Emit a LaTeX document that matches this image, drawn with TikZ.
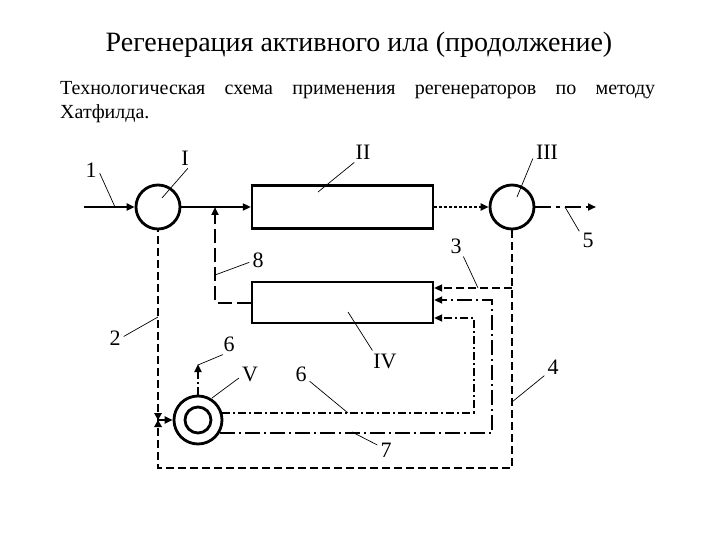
\documentclass[tikz,border=0pt]{standalone}
\usepackage{fontspec}
\setmainfont{Liberation Serif}
\usetikzlibrary{arrows.meta,positioning}

\begin{document}
\begin{tikzpicture}[x=1pt, y=-1pt, >={Triangle[length=8pt,width=7pt]},
  app/.style={draw, line width=2.4pt, inner sep=0pt, minimum width=181pt},
  tank/.style={circle, draw, line width=2.8pt, inner sep=0pt, minimum size=44pt},
  lbl/.style={font=\fontsize{22}{26}\selectfont, inner sep=3pt},
  lead/.style={line width=0.7pt},
  flow/.style={line width=2pt},
  ret/.style={flow, dash pattern=on 8pt off 4pt},
  dots/.style={flow, dash pattern=on 3pt off 2pt},
  outl/.style={flow, dash pattern=on 16pt off 5pt on 4pt off 5pt},
  l8/.style={flow, dash pattern=on 14pt off 5pt},
  dd1/.style={flow, dash pattern=on 8pt off 3pt on 2pt off 3pt},
  dd2/.style={flow, dash pattern=on 15pt off 4pt on 2pt off 4pt}]
\useasboundingbox (0,0) rectangle (720,540);
% heading
\node[font=\fontsize{28}{34}\selectfont, anchor=base] (title) at (359,52)
  {Регенерация активного ила (продолжение)};
\node[font=\fontsize{20}{24}\selectfont, anchor=base west, text width=595pt,
  align=justify, inner sep=0pt] (sub) at (60,95)
  {\noindent Технологическая схема применения регенераторов по методу\linebreak Хатфилда.};
% apparatus
\node[tank] (c1) at (158,207) {};
\node[app, minimum height=43pt] (b2) at (342.5,207) {};
\node[tank] (c3) at (512,207) {};
\node[app, minimum height=41pt] (b4) at (342.5,302.5) {};
\node[tank, minimum size=48pt] (c5) at (198,420) {};
\node[tank, minimum size=26pt] (c5i) at (c5) {};
% free ends
\coordinate (in) at (84,207);
\coordinate (out) at (596,207);
\coordinate (j8) at (215,207);
\coordinate (j3) at (512,288);
\coordinate (k1) at (474,318);
\coordinate (k2) at (492,300);
\coordinate (bot) at (335,468);
\coordinate (v) at (158,420);
\coordinate (up6) at (198,364);
% flows
\draw[flow,->] (in) -- (c1);
\draw[flow,->] (c1) -- (b2);
\draw[dots,->] (b2) -- (c3);
\draw[outl,->] (c3) -- (out);
\draw[l8,->] (b4.west) -| (j8);
\draw[ret] (c3.south) |- (bot) -| (c1.south);
\draw[ret,->] (j3) -- (b4.east |- j3);
\draw[flow,->] (v) -- (c5.west);
\fill (v) -- ++(-4,-7) -- ++(8,0) -- cycle;
\fill (v) -- ++(-4,7) -- ++(8,0) -- cycle;
\draw[dd1,->] (c5.north) -- (up6);
\draw[dd1,->] (c5.17) -| (k1) -- (b4.east |- k1);
\draw[dd2,->] (c5.-30) -| (k2) -- (b4.east |- k2);
% labels
\node[lbl] (l1) at (91,170) {1};
\node[lbl] (lI) at (185,158) {I};
\node[lbl] (lII) at (363,152) {II};
\node[lbl] (lIII) at (547,152) {III};
\node[lbl] (l5) at (588,240) {5};
\node[lbl] (l3) at (456,246) {3};
\node[lbl] (l8) at (258,260) {8};
\node[lbl] (l2) at (115,338) {2};
\node[lbl] (l6a) at (229,344) {6};
\node[lbl] (lV) at (250,374) {V};
\node[lbl] (l6b) at (301,374) {6};
\node[lbl] (lIV) at (385,361) {IV};
\node[lbl] (l4) at (553,367) {4};
\node[lbl] (l7) at (386,450) {7};
% leader ends
\coordinate (t1) at (115,207);   \coordinate (tI) at (162,198);
\coordinate (tII) at (318,192);  \coordinate (tIII) at (517,197);
\coordinate (t5) at (565,207);   \coordinate (t3) at (478,288);
\coordinate (t8) at (215,275);   \coordinate (t2) at (158,317);
\coordinate (t6a) at (198,365);  \coordinate (tV) at (212,398);
\coordinate (t6b) at (348,413);  \coordinate (tIV) at (348,312);
\coordinate (t4) at (512,402);   \coordinate (t7) at (352,432);
\draw[lead] (l1.-20) -- (t1);
\draw[lead] (lI.-75) -- (tI);
\draw[lead] (lII.-130) -- (tII);
\draw[lead] (lIII.-155) -- (tIII);
\draw[lead] (l5.135) -- (t5);
\draw[lead] (l3.-55) -- (t3);
\draw[lead] (l8.-165) -- (t8);
\draw[lead] (l2.10) -- (t2);
\draw[lead] (l6a.-120) -- (t6a);
\draw[lead] (lV.-160) -- (tV);
\draw[lead] (l6b.-40) -- (t6b);
\draw[lead] (lIV.140) -- (tIV);
\draw[lead] (l4.-135) -- (t4);
\draw[lead] (l7.150) -- (t7);
\end{tikzpicture}
\end{document}
